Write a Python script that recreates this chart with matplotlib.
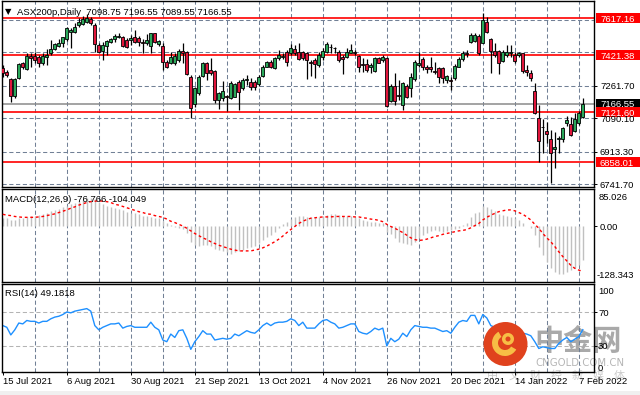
import numpy as np
import matplotlib.pyplot as plt
import matplotlib.transforms as mtransforms
from matplotlib.patches import Rectangle, Circle, Wedge

plt.rcParams['font.family'] = ['Liberation Sans', 'DejaVu Sans']

# daily bars, 15 Jul 2021 .. 8 Feb 2022
opens = [7353, 7335, 7297, 7207, 7300, 7379, 7348, 7420, 7420, 7414,
         7379, 7414, 7432, 7453, 7471, 7485, 7506, 7546, 7546, 7581,
         7587, 7599, 7611, 7581, 7476, 7446, 7472, 7493, 7506, 7520,
         7520, 7502, 7502, 7516, 7511, 7493, 7485, 7472, 7537, 7479,
         7471, 7388, 7379, 7379, 7397, 7446, 7441, 7309, 7163, 7221,
         7313, 7379, 7344, 7341, 7186, 7195, 7207, 7195, 7204, 7283,
         7248, 7290, 7283, 7283, 7270, 7313, 7362, 7388, 7353, 7406,
         7411, 7441, 7432, 7453, 7441, 7441, 7432, 7388, 7397, 7371,
         7414, 7441, 7467, 7458, 7441, 7414, 7414, 7436, 7441, 7418,
         7376, 7376, 7362, 7341, 7406, 7397, 7406, 7182, 7262, 7212,
         7160, 7260, 7248, 7295, 7371, 7400, 7358, 7362, 7339, 7353,
         7353, 7292, 7292, 7300, 7362, 7400, 7432, 7494, 7499, 7523,
         7488, 7595, 7508, 7446, 7446, 7393, 7423, 7432, 7423, 7423,
         7432, 7344, 7330, 7234, 7093, 7046, 7023, 6980, 6930, 6979,
         6979, 7063, 7060, 7024, 7065, 7098.75]
highs = [7371, 7344, 7300, 7300, 7379, 7388, 7432, 7432, 7441, 7423,
         7432, 7453, 7502, 7488, 7506, 7520, 7569, 7564, 7590, 7616,
         7629, 7639, 7622, 7590, 7485, 7494, 7502, 7515, 7534, 7537,
         7523, 7511, 7529, 7555, 7523, 7508, 7534, 7541, 7541, 7502,
         7485, 7397, 7441, 7432, 7453, 7485, 7446, 7318, 7256, 7318,
         7388, 7388, 7406, 7344, 7230, 7288, 7212, 7288, 7277, 7292,
         7300, 7318, 7300, 7292, 7318, 7371, 7393, 7397, 7414, 7450,
         7432, 7450, 7481, 7476, 7485, 7446, 7441, 7397, 7406, 7441,
         7458, 7493, 7479, 7467, 7450, 7423, 7458, 7481, 7450, 7423,
         7406, 7400, 7379, 7414, 7414, 7423, 7414, 7270, 7327, 7292,
         7283, 7270, 7330, 7397, 7441, 7414, 7371, 7414, 7388, 7362,
         7358, 7318, 7309, 7376, 7414, 7446, 7450, 7537, 7541, 7534,
         7646, 7622, 7511, 7485, 7450, 7450, 7476, 7476, 7441, 7441,
         7436, 7371, 7344, 7274, 7160, 7084, 7072, 7028, 7019, 6997,
         7046, 7102, 7095, 7116, 7130, 7196.55]
lows = [7309, 7309, 7177, 7195, 7297, 7348, 7344, 7362, 7379, 7362,
        7371, 7371, 7423, 7450, 7464, 7467, 7499, 7458, 7537, 7573,
        7581, 7590, 7581, 7441, 7432, 7397, 7423, 7485, 7493, 7511,
        7464, 7458, 7476, 7485, 7471, 7432, 7476, 7436, 7485, 7471,
        7344, 7353, 7376, 7371, 7388, 7379, 7318, 7089, 7151, 7212,
        7309, 7292, 7318, 7169, 7137, 7182, 7130, 7190, 7200, 7133,
        7239, 7265, 7239, 7239, 7260, 7309, 7358, 7353, 7348, 7397,
        7400, 7365, 7423, 7423, 7397, 7397, 7295, 7313, 7304, 7362,
        7397, 7432, 7432, 7432, 7388, 7321, 7406, 7432, 7423, 7335,
        7335, 7335, 7330, 7335, 7379, 7388, 7151, 7177, 7160, 7186,
        7133, 7195, 7204, 7288, 7362, 7344, 7327, 7335, 7323, 7274,
        7274, 7277, 7239, 7292, 7358, 7393, 7414, 7488, 7494, 7423,
        7485, 7537, 7330, 7414, 7321, 7385, 7414, 7414, 7383, 7414,
        7327, 7313, 7288, 7112, 6861, 6905, 6958, 6750, 6826, 6905,
        6966, 7049, 6996, 7019, 7054, 7089.55]
closes = [7327, 7318, 7207, 7297, 7374, 7358, 7420, 7409, 7397, 7383,
          7420, 7423, 7453, 7480, 7488, 7516, 7564, 7555, 7573, 7595,
          7611, 7617, 7590, 7479, 7441, 7476, 7497, 7506, 7523, 7525,
          7471, 7467, 7511, 7490, 7490, 7485, 7502, 7537, 7493, 7497,
          7388, 7362, 7414, 7420, 7446, 7436, 7323, 7142, 7248, 7309,
          7379, 7327, 7327, 7186, 7221, 7235, 7200, 7274, 7270, 7230,
          7292, 7295, 7256, 7253, 7309, 7358, 7385, 7362, 7406, 7423,
          7420, 7388, 7458, 7432, 7400, 7406, 7397, 7379, 7376, 7423,
          7444, 7481, 7464, 7462, 7397, 7400, 7441, 7450, 7436, 7362,
          7369, 7344, 7369, 7406, 7383, 7414, 7156, 7260, 7182, 7208,
          7274, 7200, 7309, 7388, 7383, 7362, 7351, 7348, 7332, 7309,
          7300, 7313, 7286, 7365, 7400, 7436, 7429, 7529, 7529, 7432,
          7608, 7546, 7446, 7423, 7379, 7441, 7437, 7437, 7393, 7436,
          7339, 7335, 7300, 7116, 6972, 7042, 7007, 6908, 6941, 6988,
          7037, 7081, 7002, 7084, 7119, 7166.55]

macd_main = [17.6, 17.6, 13.8, 15, 17.6, 19, 21, 22, 24, 26,
             28, 31, 34, 37, 40, 43, 47, 50, 54, 57,
             60, 64, 65, 62, 56, 51, 47, 44, 42, 40,
             36, 33, 31, 29, 27, 24, 22, 21, 19, 18,
             11, 6, 2, -2, -5, -7, -15, -36, -44, -46,
             -44, -44, -45, -53, -55, -57, -60, -63, -59, -57,
             -55, -51, -48, -45, -40, -32, -26, -21, -13, -5,
             4, 10, 16, 21, 23, 23, 21, 20, 20, 21,
             23, 25, 27, 27, 25, 24, 24, 24, 21, 18,
             14, 11, 10, 10, 8, 6, -13, -19, -28, -36,
             -40, -42, -44, -36, -27, -21, -15, -11, -9, -11,
             -13, -11, -9, -7, -4, 2, 6, 20, 29, 33,
             47, 44, 39, 34, 27, 25, 23, 21, 18, 14,
             6, 1, -4, -21, -47, -67, -82, -97, -106, -111,
             -109, -106, -101, -96, -90, -76.766]
macd_signal = [27, 25, 24, 22, 21, 20, 20, 20, 20, 21,
               22, 24, 26, 28, 31, 34, 37, 41, 44, 48,
               51, 54, 56, 57, 58, 57, 56, 54, 50, 48,
               45, 42, 39, 36, 33, 31, 28, 27, 24, 22,
               20, 16, 11, 8, 4, 0, -5, -11, -17, -22,
               -27, -31, -36, -40, -44, -47, -50, -53, -55, -57,
               -57, -57, -57, -55, -53, -50, -46, -41, -36, -30,
               -23, -15, -8, -1, 6, 11, 15, 18, 19, 20,
               21, 21, 21, 22, 22, 22, 22, 22, 21, 21,
               19, 18, 16, 15, 13, 10, 4, -1, -5, -10,
               -15, -21, -27, -31, -33, -32, -30, -27, -24, -22,
               -19, -17, -15, -13, -11, -10, -8, -4, 1, 6,
               14, 20, 25, 29, 33, 35, 37, 37, 35, 31,
               27, 21, 14, 4, -5, -17, -27, -36, -47, -59,
               -70, -80, -90, -97, -101, -104.049]
rsi = [54, 52, 43, 49, 57, 56, 60, 59, 59, 57,
       59, 59, 62, 64, 65, 67, 70, 69, 71, 72,
       73, 74, 71, 54, 49, 52, 54, 56, 56, 57,
       51, 53, 54, 52, 52, 52, 52, 58, 52, 49,
       37, 35, 44, 40, 48, 49, 39, 26, 35, 41,
       48, 44, 44, 37, 38, 39, 38, 39, 44, 42,
       45, 48, 46, 45, 49, 54, 57, 54, 57, 58,
       58, 59, 62, 60, 54, 58, 51, 51, 51, 56,
       60, 61, 58, 56, 51, 52, 54, 56, 56, 47,
       45, 44, 47, 51, 49, 51, 30, 39, 35, 38,
       45, 41, 49, 54, 53, 52, 52, 51, 51, 49,
       47, 48, 45, 52, 58, 60, 59, 66, 66, 56,
       67, 63, 54, 52, 47, 51, 51, 51, 49, 49,
       45, 44, 42, 35, 27, 29, 28, 27, 27, 33,
       37, 40, 35, 38, 41, 49.1818]

date_labels = ['15 Jul 2021', '6 Aug 2021', '30 Aug 2021', '21 Sep 2021', '13 Oct 2021',
               '4 Nov 2021', '26 Nov 2021', '20 Dec 2021', '14 Jan 2022', '7 Feb 2022']
date_pos = [0, 16, 32, 48, 64, 80, 96, 112, 128, 144]
red_levels = [7617.16, 7421.38, 7121.60, 6858.01]
last_price = 7166.55
price_grid = [6741.70, 6913.30, 7090.10, 7261.70, 7437.8, 7610.0]
price_labels = [7261.70, 7090.10, 6913.30, 6741.70]

W, H = 640, 395
fig = plt.figure(figsize=(W / 100, H / 100), dpi=100)
fig.patch.set_facecolor('white')


def px_axes(l, t, r, b):
    a = fig.add_axes([l / W, 1 - b / H, (r - l) / W, (b - t) / H])
    a.set_facecolor('none')
    for s in a.spines.values():
        s.set_color('black')
        s.set_linewidth(1)
    return a


ax1 = px_axes(2, 1, 594, 187)
ax2 = px_axes(2, 189, 594, 282)
ax3 = px_axes(2, 284, 594, 372)

n = len(closes)
x = np.arange(n)
grid_col = '#718096'
dash = (0, (4, 2.5))

for a in (ax1, ax2, ax3):
    a.set_xlim(-0.2, 147.8)
    for g in range(8, n, 8):
        a.axvline(g, color=grid_col, lw=0.75, ls=dash, zorder=0.5)
    a.tick_params(axis='x', bottom=False, labelbottom=False)
    a.yaxis.tick_right()
    a.tick_params(axis='y', direction='out', length=2.2, width=0.7, labelright=False, labelleft=False)

# price panel
ax1.set_ylim(6728, 7708)
for g in price_grid:
    ax1.axhline(g, color=grid_col, lw=0.75, ls=dash, zorder=0.5)
for lv in red_levels:
    ax1.axhline(lv, color='#ff0000', lw=1.2, zorder=1)
ax1.axhline(last_price, color='#8a8a8a', lw=1.1, zorder=1)

o = np.array(opens)
c = np.array(closes)
up = c >= o
body_col = np.where(up, '#2aa85a', '#e0163c')
ax1.vlines(x, lows, highs, color='black', lw=0.9, zorder=2)
ax1.bar(x, np.maximum(np.abs(c - o), 0.8), bottom=np.minimum(o, c), width=0.72,
        color=body_col, edgecolor='black', linewidth=0.6, zorder=3)
ax1.set_yticks(price_labels)

# MACD panel
ax2.set_ylim(-128.343, 85.026)
ax2.vlines(x, 0, macd_main, color='#c0c0c0', lw=1.0, zorder=2)
ax2.plot(x, macd_signal, color='#ff0000', lw=1.0, ls=(0, (2, 2)), zorder=3)
ax2.set_yticks([0])

# RSI panel
ax3.set_ylim(-0.7, 103)
for lv in (70, 30):
    ax3.axhline(lv, color='#b4b4b4', lw=0.75, ls=dash, zorder=0.5)
ax3.plot(x, rsi, color='#1e90ff', lw=1.0, zorder=2)
ax3.set_yticks([70, 30])
ax3.set_xticks(date_pos)
ax3.set_xticklabels(date_labels, ha='left')
ax3.tick_params(axis='x', bottom=True, labelbottom=True, direction='out', length=2.5,
                width=0.7, pad=1.2, labelsize=6.8)


def rlabel(ax, val, txt, box=None, xpx=600, dy=0, color='black'):
    y0, y1 = ax.get_ylim()
    per_px = (y1 - y0) / (ax.get_position().height * H)
    tr = mtransforms.blended_transform_factory(fig.transFigure, ax.transData)
    if box is not None:
        fig.add_artist(Rectangle((595.5 / W, val - 5 * per_px), 44.5 / W, 10 * per_px,
                                 transform=tr, facecolor=box, edgecolor='none', zorder=3))
        color = 'white'
    fig.text(xpx / W, val - (3.5 + dy) * per_px, txt, transform=tr, fontsize=6.8,
             color=color, va='baseline', ha='left', zorder=4)


for p in price_labels:
    rlabel(ax1, p, f'{p:.2f}')
rlabel(ax1, last_price, f'{last_price:.2f}', box='black')
for lv in red_levels:
    rlabel(ax1, lv, f'{lv:.2f}', box='#ff0000')

rlabel(ax2, 85.026, '85.026', xpx=599, dy=8)
rlabel(ax2, 0, '0.00', xpx=600, dy=0.5)
rlabel(ax2, -128.343, '-128.343', xpx=597, dy=-7.7)

rlabel(ax3, 100, '100', xpx=598, dy=4)
rlabel(ax3, 70, '70', xpx=598)
rlabel(ax3, 30, '30', xpx=598)
rlabel(ax3, 0, '0', xpx=598, dy=-4.4)

# panel captions
fig.text(5 / W, 1 - 14.5 / H, '\u25bc', fontsize=6, color='black', family=['DejaVu Sans'])
fig.text(17 / W, 1 - 15 / H, 'ASX200p,Daily  7098.75 7196.55 7089.55 7166.55',
         fontsize=6.8, color='black')
fig.text(5 / W, 1 - 202 / H, 'MACD(12,26,9) -76.766 -104.049', fontsize=6.8, color='black')
fig.text(5 / W, 1 - 296.5 / H, 'RSI(14) 49.1818', fontsize=6.8, color='black')

# watermark
ident = mtransforms.IdentityTransform()
fig.add_artist(Circle((505.5, H - 344), 22, transform=ident, facecolor='#e0421d',
                      edgecolor='none', zorder=5))
fig.add_artist(Wedge((505, H - 343), 13, 120, 330, width=6, transform=ident,
                     facecolor='#f7be45', edgecolor='none', zorder=6))
fig.add_artist(Wedge((508, H - 339), 6, 0, 360, width=3.5, transform=ident,
                     facecolor='#f7be45', edgecolor='none', zorder=6))
fig.text(534 / W, 1 - 341 / H, '中金网', fontsize=21, color='#a9a9a9', va='center',
         family=['Noto Sans CJK SC'], fontweight='bold', zorder=-1)
fig.text(535 / W, 1 - 365.5 / H, 'CNGOLD.COM.CN', fontsize=7.3, color='#b5b5b5',
         family=['DejaVu Sans'], zorder=-1)
for k, ch in enumerate('中文财经新媒体'):
    fig.text((493 + 21 * k) / W, 1 - 376 / H, ch, fontsize=8, color='#cccccc', ha='center',
             va='center', family=['Noto Sans CJK SC'], zorder=-1)

fig.add_artist(Rectangle((0, 0), 1, 4 / H, transform=fig.transFigure,
                         facecolor='#f0f0f0', edgecolor='none', zorder=-2))

fig.savefig('out.png', dpi=100)
